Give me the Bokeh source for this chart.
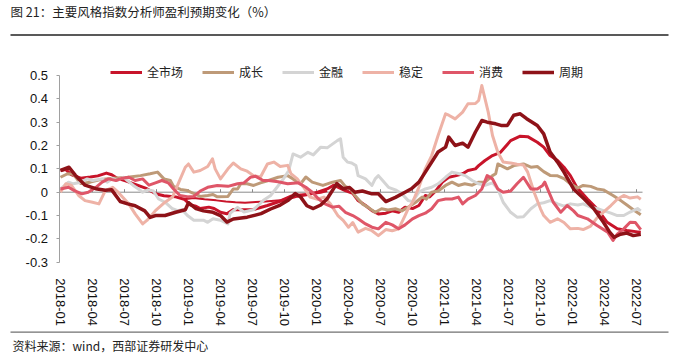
from bokeh.plotting import figure
from bokeh.models import Range1d, FixedTicker, Label, BoxAnnotation, Legend, LegendItem
from bokeh.embed import file_html
from bokeh.resources import INLINE

# x values: months since 2018-01 ; y values: % change of analyst earnings expectations
tick_pos = [0, 3, 6, 9, 12, 15, 18, 21, 24, 27, 30, 33, 36, 39, 42, 45, 48, 51, 54]
tick_labels = ["2018-01", "2018-04", "2018-07", "2018-10", "2019-01", "2019-04", "2019-07",
               "2019-10", "2020-01", "2020-04", "2020-07", "2020-10", "2021-01", "2021-04",
               "2021-07", "2021-10", "2022-01", "2022-04", "2022-07"]
y_ticks = [-0.3, -0.2, -0.1, 0, 0.1, 0.2, 0.3, 0.4, 0.5]
y_labels = ["-0.3", "-0.2", "-0.1", "0", "0.1", "0.2", "0.3", "0.4", "0.5"]

market_t = [0.0, 0.5, 1.0, 1.9, 2.8, 3.5, 4.3, 4.8, 5.3, 6.3, 7.2, 8.1, 9.0, 9.7, 10.8, 11.6, 12.2, 12.7,
            13.1, 13.9, 14.4, 15.0, 15.6, 16.2, 17.0, 18.1, 19.4, 20.3, 21.3, 22.2, 23.2, 24.1, 25.0, 25.6,
            26.1, 26.7, 27.4, 27.9, 28.6, 29.2, 29.8, 30.5, 31.1, 31.7, 32.3, 33.0, 33.6, 34.2, 34.6, 35.2,
            35.8, 36.4, 37.0, 37.7, 38.2, 38.9, 39.2, 39.8, 40.5, 41.25, 42.2, 43.1, 43.8, 44.7, 45.3, 45.9,
            46.6, 47.2, 47.8, 48.4, 49.4, 50.3, 51.25, 52.2, 53.1, 54.1, 54.4]
market_v = [0.093, 0.097, 0.075, 0.06, 0.065, 0.07, 0.082, 0.075, 0.06, 0.045, 0.03, 0.015, -0.008, -0.015,
            -0.02, -0.03, -0.055, -0.06, -0.07, -0.064, -0.07, -0.086, -0.092, -0.074, -0.075, -0.074, -0.057,
            -0.043, -0.028, -0.017, -0.01, 0.0, 0.014, 0.03, 0.02, 0.007, -0.005, -0.036, -0.057, -0.079,
            -0.093, -0.09, -0.08, -0.086, -0.064, -0.07, -0.057, -0.014, -0.02, 0.007, 0.043, 0.064, 0.07,
            0.079, 0.093, 0.1, 0.114, 0.136, 0.157, 0.171, 0.221, 0.24, 0.238, 0.214, 0.193, 0.157, 0.136,
            0.107, 0.071, 0.021, -0.029, -0.071, -0.129, -0.157, -0.164, -0.17, -0.172]

market2_t = [11.6, 12.5, 13.5, 14.6, 15.5, 16.4, 17.3, 18.3, 19.2, 20.6, 21.6, 22.5, 23.5, 24.4, 25.0]
market2_v = [-0.03, -0.025, -0.03, -0.035, -0.04, -0.043, -0.045, -0.042, -0.04, -0.035, -0.015, -0.01,
             -0.008, -0.002, 0.005]

growth_t = [0.0, 0.66, 1.2, 1.9, 2.8, 3.75, 5.0, 6.3, 7.5, 8.4, 9.1, 9.7, 10.3, 10.6, 11.25, 11.9, 12.2,
            13.1, 13.8, 14.3, 14.7, 15.7, 16.2, 16.6, 16.9, 17.5, 18.1, 18.75, 19.5, 20.4, 21.3, 21.8, 22.5,
            23.0, 23.6, 24.6, 25.5, 26.25, 26.7, 27.2, 27.6, 28.3, 28.8, 29.5, 30.1, 30.7, 31.4, 32.0, 32.6,
            33.3, 33.9, 34.3, 34.8, 35.4, 36.1, 36.7, 37.3, 37.9, 38.6, 39.2, 39.8, 40.5, 40.8, 41.0, 41.3,
            41.9, 42.5, 43.4, 44.1, 44.7, 45.3, 45.9, 46.6, 47.2, 47.8, 48.5, 49.0, 49.7, 50.3, 50.9, 51.8,
            52.5, 53.1, 53.7, 54.4]
growth_v = [0.064, 0.079, 0.077, 0.037, 0.043, 0.054, 0.06, 0.064, 0.071, 0.079, 0.086, 0.057, 0.05, 0.025,
            0.012, 0.007, 0.0, -0.018, -0.014, -0.01, -0.02, -0.018, 0.014, 0.014, 0.036, 0.036, 0.029, 0.04,
            0.05, 0.064, 0.071, 0.057, 0.035, 0.065, 0.043, 0.029, 0.043, 0.05, 0.025, 0.014, -0.014, -0.05,
            -0.064, -0.086, -0.071, -0.076, -0.071, -0.08, -0.064, -0.043, -0.021, -0.03, 0.0, 0.005, 0.029,
            0.043, 0.029, 0.036, 0.03, 0.043, 0.043, 0.071, 0.079, 0.121, 0.114, 0.1, 0.114, 0.121, 0.107,
            0.11, 0.088, 0.072, 0.07, 0.058, 0.036, 0.018, 0.029, 0.025, 0.014, 0.01, -0.014, -0.035, -0.055,
            -0.075, -0.097]

finance_t = [0.0, 0.75, 1.2, 1.9, 2.5, 3.0, 3.9, 4.4, 4.9, 5.3, 5.9, 6.8, 7.5, 7.7, 8.2, 8.7, 9.2, 9.8,
             10.5, 11.0, 11.4, 11.9, 12.5, 13.4, 13.8, 14.3, 15.0, 15.7, 15.9, 16.6, 17.2, 18.1, 19.0, 19.7,
             20.3, 20.9, 21.4, 21.8, 22.5, 23.2, 23.7, 24.4, 25.0, 25.95, 26.25, 26.5, 26.9, 27.3, 27.7, 27.9,
             28.6, 29.2, 29.5, 29.8, 30.2, 30.75, 31.4, 32.0, 32.6, 33.0, 33.6, 34.2, 34.8, 35.4, 36.1, 36.7,
             37.3, 37.95, 38.6, 39.2, 39.8, 40.5, 41.0, 41.5, 42.2, 42.8, 43.4, 44.1, 44.7, 45.3, 45.9, 46.6,
             47.2, 47.8, 48.5, 49.0, 49.7, 50.3, 50.9, 51.6, 52.2, 52.8, 53.4, 54.1, 54.4]
finance_v = [0.014, 0.043, 0.036, 0.043, 0.057, 0.05, 0.057, 0.043, 0.06, 0.05, 0.064, 0.03, 0.007, 0.0,
             0.01, 0.005, -0.029, -0.043, -0.071, -0.079, -0.075, -0.1, -0.12, -0.12, -0.129, -0.114, -0.12,
             -0.136, -0.09, -0.065, -0.085, -0.075, -0.036, -0.014, 0.021, 0.057, 0.093, 0.164, 0.15, 0.171,
             0.16, 0.193, 0.19, 0.221, 0.229, 0.15, 0.129, 0.125, 0.114, 0.071, 0.057, 0.029, 0.057, 0.071,
             0.05, 0.021, 0.01, -0.007, -0.036, -0.04, 0.0, 0.014, 0.021, 0.036, 0.064, 0.086, 0.08, 0.071,
             0.05, 0.036, 0.03, 0.04, 0.014, -0.043, -0.086, -0.107, -0.105, -0.071, -0.05, -0.045, -0.036,
             -0.05, -0.06, -0.05, -0.055, -0.05, -0.064, -0.07, -0.079, -0.09, -0.1, -0.1, -0.085, -0.07, -0.08]

stable_t = [0.0, 0.5, 1.0, 1.7, 2.3, 3.0, 3.6, 4.2, 4.9, 5.4, 6.4, 7.0, 7.7, 8.1, 8.9, 9.8, 10.5, 11.1,
            11.7, 12.0, 12.5, 13.1, 13.8, 14.25, 14.5, 15.0, 15.3, 15.7, 16.2, 16.9, 17.5, 18.1, 18.75, 19.4,
            20.0, 20.6, 21.3, 21.6, 22.2, 22.8, 23.4, 24.1, 24.7, 25.3, 26.0, 26.5, 27.0, 27.4, 27.9, 28.6,
            29.2, 29.8, 30.5, 31.1, 31.7, 32.3, 32.6, 33.0, 33.6, 34.2, 34.8, 35.4, 36.1, 36.4, 37.0, 37.7,
            38.2, 38.9, 39.2, 39.5, 39.8, 40.1, 40.5, 41.0, 41.5, 42.2, 42.8, 43.4, 43.8, 44.4, 45.0, 45.3,
            45.9, 46.6, 47.2, 47.8, 48.5, 49.0, 49.7, 50.3, 50.9, 51.6, 52.2, 52.8, 53.4, 54.1, 54.4]
stable_v = [0.0, 0.036, 0.03, -0.014, -0.036, -0.043, -0.05, 0.007, 0.021, 0.0, -0.05, -0.093, -0.136,
            -0.121, -0.079, -0.043, -0.021, 0.043, 0.107, 0.121, 0.086, 0.093, 0.11, 0.143, 0.1, 0.057,
            0.075, 0.1, 0.125, 0.1, 0.09, 0.071, 0.065, 0.121, 0.129, 0.11, 0.115, 0.08, 0.057, 0.021,
            -0.021, -0.03, -0.021, -0.05, -0.1, -0.121, -0.15, -0.13, -0.171, -0.155, -0.165, -0.186, -0.16,
            -0.165, -0.157, -0.1, -0.07, -0.043, 0.021, 0.1, 0.157, 0.243, 0.336, 0.33, 0.314, 0.343, 0.379,
            0.38, 0.393, 0.457, 0.4, 0.343, 0.243, 0.171, 0.129, 0.125, 0.12, 0.117, 0.086, 0.0, -0.071,
            -0.1, -0.129, -0.114, -0.13, -0.157, -0.155, -0.16, -0.145, -0.11, -0.085, -0.057, -0.03,
            -0.014, -0.025, -0.02, -0.03]

consumer_t = [0.0, 0.75, 1.3, 2.0, 2.6, 3.3, 3.9, 4.5, 5.2, 5.8, 6.4, 7.0, 7.7, 8.3, 8.9, 9.5, 10.1, 10.6,
              11.2, 12.0, 12.5, 13.1, 13.8, 14.7, 15.7, 16.6, 17.2, 17.8, 18.3, 19.0, 19.5, 20.4, 21.3, 22.3,
              23.0, 23.6, 24.2, 24.8, 25.5, 26.1, 26.7, 27.4, 27.9, 28.6, 29.2, 29.8, 30.5, 31.1, 31.7, 32.3,
              33.0, 33.6, 34.2, 34.8, 35.4, 36.1, 36.7, 37.3, 37.7, 38.2, 38.9, 39.5, 40.0, 40.5, 41.0, 41.5,
              42.2, 42.8, 43.4, 44.1, 44.7, 45.2, 45.4, 45.7, 46.2, 46.9, 47.5, 48.1, 48.5, 49.4, 50.3, 51.3,
              51.8, 52.2, 52.8, 53.4, 53.9, 54.4]
consumer_v = [0.014, 0.021, 0.007, -0.007, 0.0, 0.02, 0.043, 0.057, 0.05, 0.06, 0.064, 0.05, 0.057, 0.03,
              0.04, 0.05, 0.04, 0.014, -0.014, -0.02, -0.018, 0.005, 0.021, 0.029, 0.025, 0.036, 0.04,
              0.064, 0.068, 0.05, 0.05, 0.045, 0.036, 0.04, 0.021, 0.0, -0.029, -0.05, -0.064, -0.06, -0.086,
              -0.1, -0.114, -0.136, -0.15, -0.157, -0.129, -0.14, -0.157, -0.14, -0.114, -0.1, -0.09, -0.071,
              -0.036, -0.029, -0.029, -0.021, -0.05, -0.03, -0.014, 0.014, 0.071, 0.057, 0.014, 0.0, 0.005,
              0.036, 0.064, 0.014, 0.014, 0.029, 0.043, 0.01, -0.043, -0.086, -0.057, -0.08, -0.1, -0.114,
              -0.143, -0.171, -0.207, -0.18, -0.157, -0.129, -0.13, -0.16]

cycle_t = [0.0, 0.8, 1.4, 2.3, 3.3, 4.2, 4.8, 5.6, 6.3, 7.0, 7.9, 8.4, 8.9, 9.8, 10.8, 11.7, 12.0, 12.7,
           13.4, 14.3, 15.0, 15.6, 16.2, 17.5, 18.8, 19.7, 20.6, 21.3, 22.0, 22.5, 23.1, 23.7, 24.4, 25.0,
           25.9, 26.5, 27.1, 27.6, 28.3, 29.2, 29.8, 30.5, 31.4, 32.3, 32.9, 33.6, 34.2, 34.8, 35.4, 36.1,
           36.4, 37.0, 37.7, 38.2, 38.9, 39.5, 40.0, 40.8, 41.3, 41.9, 42.5, 43.1, 43.7, 44.7, 45.3, 45.9,
           46.6, 47.2, 48.1, 49.1, 50.0, 50.9, 51.5, 51.9, 52.5, 53.1, 53.7, 54.4]
cycle_v = [0.093, 0.107, 0.072, 0.03, 0.015, 0.008, 0.01, -0.04, -0.05, -0.058, -0.08, -0.108, -0.1, -0.1,
           -0.086, -0.075, -0.045, -0.07, -0.08, -0.086, -0.1, -0.128, -0.115, -0.107, -0.092, -0.072,
           -0.055, -0.036, -0.006, -0.02, -0.058, -0.07, -0.055, -0.028, 0.037, 0.015, 0.02, 0.0, 0.005,
           -0.007, -0.007, -0.04, -0.022, 0.0, 0.015, 0.043, 0.086, 0.129, 0.172, 0.193, 0.236, 0.2, 0.21,
           0.193, 0.258, 0.307, 0.3, 0.293, 0.286, 0.286, 0.33, 0.336, 0.315, 0.286, 0.25, 0.172, 0.129,
           0.086, 0.014, -0.029, -0.071, -0.129, -0.172, -0.193, -0.18, -0.175, -0.186, -0.18]

series = [
    ("全市场", market_t, market_v, "#C8142A", 3),
    ("成长", growth_t, growth_v, "#BE9A78", 3),
    ("金融", finance_t, finance_v, "#D4D4D4", 3),
    ("稳定", stable_t, stable_v, "#EEB2A6", 3),
    ("消费", consumer_t, consumer_v, "#DF5668", 3),
    ("周期", cycle_t, cycle_v, "#8E1218", 3.5),
]

# ---- layout (pixels) ----
W, H = 672, 354
PX_PER_MONTH = 32.0 / 3.0          # one quarter = 32 px
X0_PX = 60.0                        # pixel position of 2018-01
Y0_PX, PX_PER_UNIT = 191.7, 233.4   # pixel of value 0, pixels per 1.0
plot_left_m = (58.5 - X0_PX) / PX_PER_MONTH
plot_right_m = (642.0 - X0_PX) / PX_PER_MONTH

x_range = Range1d(-X0_PX / PX_PER_MONTH, (W - X0_PX) / PX_PER_MONTH)
y_range = Range1d((Y0_PX - H) / PX_PER_UNIT, Y0_PX / PX_PER_UNIT)

p = figure(width=W, height=H, output_backend="svg", toolbar_location=None,
           x_range=x_range, y_range=y_range,
           min_border_left=0, min_border_right=0, min_border_top=0, min_border_bottom=0)
p.outline_line_color = None
p.xgrid.visible = False
p.ygrid.visible = False
p.background_fill_color = "white"
p.border_fill_color = "white"

# zero line with small tick marks (category axis crossing at 0)
p.segment(x0=[plot_left_m], y0=[0], x1=[plot_right_m], y1=[0], line_color="#8A8A8A", line_width=1)
p.segment(x0=tick_pos, y0=[0] * len(tick_pos), x1=tick_pos, y1=[3.0 / PX_PER_UNIT] * len(tick_pos),
          line_color="#8A8A8A", line_width=1)

items = []
p.line(market2_t, market2_v, line_color="#C8142A", line_width=2)
for name, t, v, col, lw in series:
    r = p.line(t, v, line_color=col, line_width=lw, line_join="round")
    items.append(LegendItem(label=name, renderers=[r]))

legend = Legend(items=items, orientation="horizontal", location=(110, H - 80),
                glyph_width=32, glyph_height=14, label_standoff=5, spacing=19,
                padding=0, margin=0, label_height=14,
                label_text_font="Noto Sans CJK SC", label_text_font_size="12px",
                label_text_color="#222222", border_line_color=None,
                background_fill_alpha=0)
p.add_layout(legend)

# axes drawn at fixed locations inside the full-canvas frame
xa = p.xaxis[0]
xa.fixed_location = y_ticks[0]
xa.ticker = FixedTicker(ticks=tick_pos)
xa.major_label_overrides = {k: s for k, s in zip(tick_pos, tick_labels)}
xa.major_label_orientation = "vertical"
xa.axis_line_color = None
xa.major_tick_line_color = None
xa.minor_tick_line_color = None
xa.major_label_standoff = 10
xa.major_label_text_font = "Liberation Sans"
xa.major_label_text_font_size = "13px"
xa.major_label_text_color = "#111111"

ya = p.yaxis[0]
ya.fixed_location = plot_left_m
ya.bounds = (y_ticks[0], y_ticks[-1])
ya.ticker = FixedTicker(ticks=y_ticks)
ya.major_label_overrides = {k: s for k, s in zip(y_ticks, y_labels)}
ya.axis_line_color = "#A0A0A0"
ya.major_tick_line_color = "#A0A0A0"
ya.major_tick_out = 3
ya.major_tick_in = 0
ya.minor_tick_line_color = None
ya.major_label_standoff = 8
ya.major_label_text_font = "Liberation Sans"
ya.major_label_text_font_size = "13px"
ya.major_label_text_color = "#111111"

# title, rules and source (screen units, origin at bottom-left of the canvas-sized frame)
p.add_layout(Label(x=10, y=H - 11, x_units="screen", y_units="screen",
                   text="图 21：主要风格指数分析师盈利预期变化（%）",
                   text_font="Noto Sans CJK SC", text_font_size="12.5px",
                   text_color="#222222", text_baseline="middle"))
p.add_layout(BoxAnnotation(left=10, right=668, bottom=H - 35.2, top=H - 33.8,
                           left_units="screen", right_units="screen",
                           bottom_units="screen", top_units="screen",
                           fill_color="#222222", fill_alpha=1, line_color=None))
p.add_layout(BoxAnnotation(left=10, right=668, bottom=H - 332.2, top=H - 331.0,
                           left_units="screen", right_units="screen",
                           bottom_units="screen", top_units="screen",
                           fill_color="#707070", fill_alpha=1, line_color=None))
p.add_layout(Label(x=12, y=H - 344.5, x_units="screen", y_units="screen",
                   text="资料来源：wind，西部证券研发中心",
                   text_font="Noto Sans CJK SC", text_font_size="12px",
                   text_color="#222222", text_baseline="middle"))

open("out.html", "w").write(file_html(p, INLINE))
